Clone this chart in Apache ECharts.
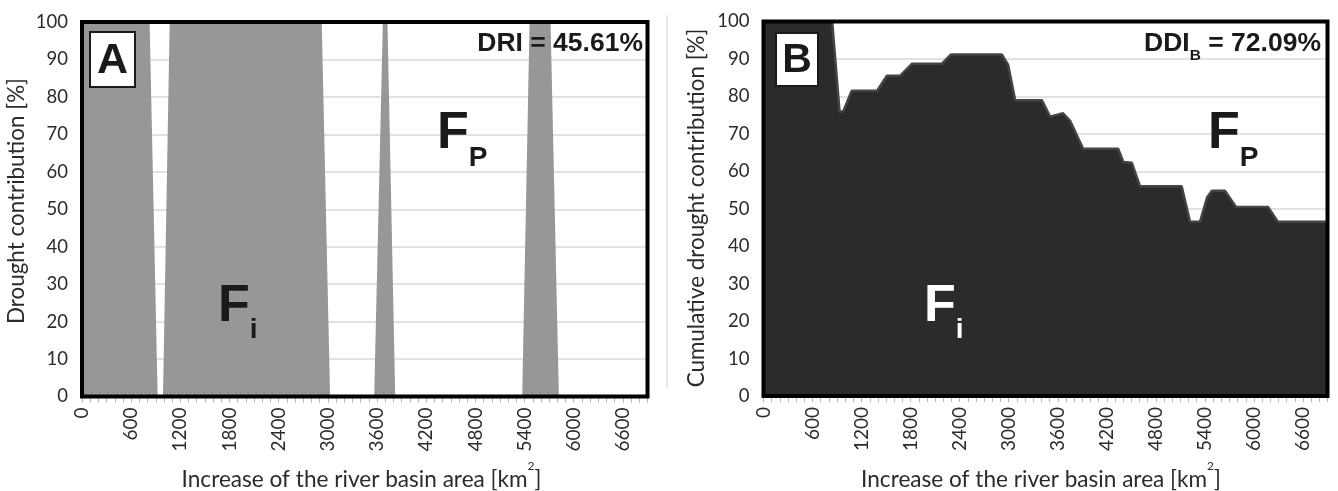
<!DOCTYPE html>
<html>
<head>
<meta charset="utf-8">
<script src="https://cdn.jsdelivr.net/npm/echarts@6/dist/echarts.min.js"></script>
<style>
  html, body { margin: 0; padding: 0; background: #fff; }
  #chart { width: 1338px; height: 491px; }
</style>
</head>
<body>
<div id="chart"></div>
<script>
// Panel A: drought contribution along the growing river basin area [km²] -> [%]
const areaA = [0, 825, 923, 988, 1070, 2925, 3027, 3565, 3671, 3727, 3822, 5371, 5461, 5717, 5819, 6900];
const contribA = [100, 100, 0, 0, 100, 100, 0, 0, 100, 100, 0, 0, 100, 100, 0, 0];

// Panel B: cumulative drought contribution along the same basin area
const areaB = [0, 840, 930, 975, 1080, 1390, 1510, 1670, 1815, 2180, 2295, 2915, 2993, 3079, 3405, 3506,
               3665, 3751, 3910, 4340, 4402, 4505, 4606, 5116, 5218, 5340, 5426, 5486, 5645, 5780, 6172, 6294, 6900];
const contribB = [100, 100, 76, 76, 81.5, 81.5, 85.5, 85.5, 88.7, 88.7, 91.2, 91.2, 88.4, 79, 79, 74.6,
                  75.5, 73.5, 66, 66, 62.5, 62.3, 56, 56, 46.5, 46.5, 53, 54.8, 54.8, 50.5, 50.5, 46.5, 46.5];

// Axis labelling
const xTickLabels = [0, 600, 1200, 1800, 2400, 3000, 3600, 4200, 4800, 5400, 6000, 6600];
const yTickLabels = [0, 10, 20, 30, 40, 50, 60, 70, 80, 90, 100];
const panelLetters = ['A', 'B'];
const yTitles = ['Drought contribution [%]', 'Cumulative drought contribution [%]'];
const xTitle = ['Increase of the river basin area [km', '2', ']'];
const indexA = 'DRI = 45.61%';
const indexB = ['DDI', 'B', ' = 72.09%'];

// Layout of the two plot frames
const G = [
  { left: 82, top: 22, width: 565.5, height: 374.5 },
  { left: 763.5, top: 21.5, width: 564, height: 374.5 }
];
const X_MAX = 6900;

const LABEL_FONT = 'Lato';
const LABEL_COLOR = '#2b2b2b';
const BOLD = '"Liberation Sans", Arial, sans-serif';

const measureCtx = document.createElement('canvas').getContext('2d');
function textRun(pieces, x, y, align) {
  const widths = pieces.map(p => { measureCtx.font = p.font; return measureCtx.measureText(p.text).width; });
  const total = widths.reduce((a, b) => a + b, 0);
  let cx = align === 'right' ? x - total : align === 'center' ? x - total / 2 : x;
  return pieces.map((p, i) => {
    const el = {
      type: 'text', x: cx, y: y + (p.dy || 0), z: 120, silent: true,
      style: { text: p.text, font: p.font, fill: p.fill || '#1a1a1a',
               textAlign: 'left', align: 'left', textVerticalAlign: 'middle', verticalAlign: 'middle' }
    };
    cx += widths[i];
    return el;
  });
}

function xAxisFor(i) {
  return {
    type: 'value', gridIndex: i, min: 0, max: X_MAX, interval: 100,
    axisLine: { show: false },
    axisTick: { show: true, length: 6, lineStyle: { color: '#b5b5b5', width: 1 } },
    splitLine: { show: false },
    axisLabel: {
      rotate: 90, margin: 11, fontFamily: LABEL_FONT, fontSize: 19, color: LABEL_COLOR,
      formatter: v => xTickLabels.includes(v) ? String(v) : ''
    }
  };
}
function yAxisFor(i) {
  return {
    type: 'value', gridIndex: i, min: 0, max: 100, interval: 10,
    axisLine: { show: false }, axisTick: { show: false },
    splitLine: { show: true, lineStyle: { color: '#d9d9d9', width: 1.5 } },
    axisLabel: {
      margin: 14, fontFamily: LABEL_FONT, fontSize: 18.5, color: LABEL_COLOR,
      formatter: v => yTickLabels.includes(v) ? String(v) : ''
    }
  };
}

const graphics = [];
// separator between the panels
graphics.push({ type: 'line', z: 5, silent: true, shape: { x1: 667, y1: 15, x2: 667, y2: 388 },
                style: { stroke: '#d4d4d4', lineWidth: 1 } });
// thick frames round both plot areas
G.forEach(g => graphics.push({
  type: 'rect', z: 100, silent: true,
  shape: { x: g.left, y: g.top, width: g.width, height: g.height },
  style: { fill: null, stroke: '#000', lineWidth: 4 }
}));
// panel letter boxes
const boxes = [
  { x: 90, y: 32, w: 45, h: 55, size: 43 },
  { x: 776, y: 33, w: 42, h: 53, size: 41 }
];
boxes.forEach((b, i) => {
  graphics.push({ type: 'rect', z: 110, silent: true, shape: { x: b.x, y: b.y, width: b.w, height: b.h },
                  style: { fill: '#fff', stroke: '#1a1a1a', lineWidth: 2 } });
  graphics.push({ type: 'text', z: 120, silent: true, x: b.x + b.w / 2, y: b.y + b.h / 2 + 1.5,
                  style: { text: panelLetters[i], font: 'bold ' + b.size + 'px ' + BOLD, fill: '#1a1a1a',
                           textAlign: 'center', align: 'center', textVerticalAlign: 'middle', verticalAlign: 'middle' } });
});
// index values
graphics.push(...textRun([{ text: indexA, font: 'bold 26.5px ' + BOLD }], 643, 43.8, 'right'));
graphics.push(...textRun([
  { text: indexB[0], font: 'bold 26.5px ' + BOLD },
  { text: indexB[1], font: 'bold 15.5px ' + BOLD, dy: 12.4 },
  { text: indexB[2], font: 'bold 26.5px ' + BOLD }
], 1321, 43.8, 'right'));
// F_P and F_i labels
const bigF = 'bold 52px ' + BOLD, subF = 'bold 28px ' + BOLD;
graphics.push(...textRun([{ text: 'F', font: bigF }, { text: 'P', font: subF, dy: 24 }], 437, 134, 'left'));
graphics.push(...textRun([{ text: 'F', font: bigF }, { text: 'P', font: subF, dy: 24 }], 1208, 134, 'left'));
graphics.push(...textRun([{ text: 'F', font: bigF }, { text: 'i', font: subF, dy: 24 }], 218, 306.5, 'left'));
graphics.push(...textRun([{ text: 'F', font: bigF, fill: '#fff' }, { text: 'i', font: subF, dy: 24, fill: '#fff' }], 924, 306.5, 'left'));
// axis titles
const titleFont = '22.6px ' + LABEL_FONT;
[361.5, 1041].forEach(cx => graphics.push(...textRun([
  { text: xTitle[0], font: titleFont, fill: LABEL_COLOR },
  { text: xTitle[1], font: '12px ' + LABEL_FONT, fill: LABEL_COLOR, dy: -13 },
  { text: xTitle[2], font: titleFont, fill: LABEL_COLOR }
], cx, 479.5, 'center')));
[[17, 201], [697, 208]].forEach((p, i) => graphics.push({
  type: 'text', z: 120, silent: true, x: p[0], y: p[1], rotation: Math.PI / 2,
  style: { text: yTitles[i], font: '22.4px ' + LABEL_FONT, fill: LABEL_COLOR,
           textAlign: 'center', align: 'center', textVerticalAlign: 'middle', verticalAlign: 'middle' }
}));

const chart = echarts.init(document.getElementById('chart'), null, { renderer: 'canvas' });
chart.setOption({
  animation: false,
  backgroundColor: '#fff',
  grid: G.map(g => Object.assign({ containLabel: false }, g)),
  xAxis: [xAxisFor(0), xAxisFor(1)],
  yAxis: [yAxisFor(0), yAxisFor(1)],
  series: [
    {
      type: 'line', xAxisIndex: 0, yAxisIndex: 0, symbol: 'none', silent: true,
      data: areaA.map((x, i) => [x, contribA[i]]),
      lineStyle: { width: 0, color: '#979797' },
      itemStyle: { color: '#979797' },
      areaStyle: { color: '#979797', opacity: 1 }
    },
    {
      type: 'line', xAxisIndex: 1, yAxisIndex: 1, symbol: 'none', silent: true,
      data: areaB.map((x, i) => [x, contribB[i]]),
      lineStyle: { width: 2.5, color: '#444' },
      itemStyle: { color: '#2b2b2b' },
      areaStyle: { color: '#2b2b2b', opacity: 1 }
    }
  ],
  graphic: graphics
});
</script>
</body>
</html>
